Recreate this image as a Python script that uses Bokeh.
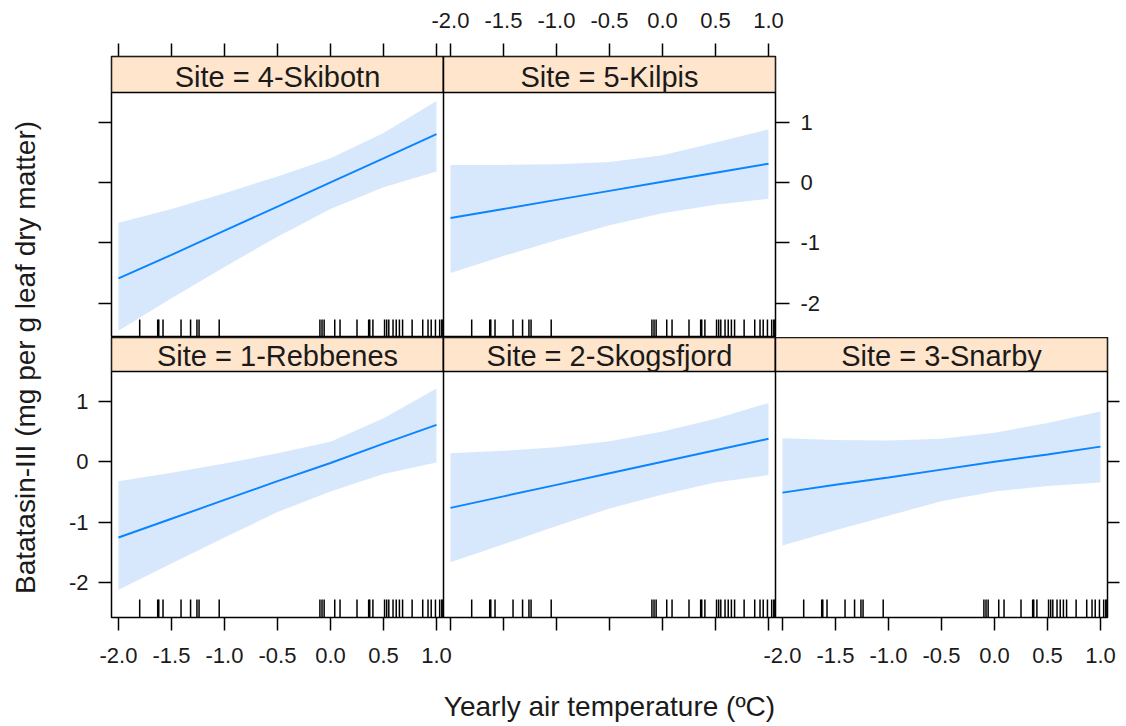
import math
from bokeh.plotting import figure
from bokeh.layouts import row, column
from bokeh.models import (Range1d, FixedTicker, LinearAxis, BoxAnnotation,
                          Label, Span, PrintfTickFormatter,
                          CustomJSTickFormatter)
from bokeh.embed import file_html
from bokeh.resources import INLINE

FONT = "Liberation Sans"

# ---------------- data ----------------
temp = [-2.0, -1.5, -1.0, -0.5, 0.0, 0.5, 1.0]

fit_skibotn = [-1.59, -1.20, -0.80, -0.40, 0.00, 0.40, 0.80]
lo_skibotn = [-2.46, -1.92, -1.40, -0.90, -0.44, -0.08, 0.18]
hi_skibotn = [-0.67, -0.44, -0.18, 0.10, 0.40, 0.82, 1.35]

fit_kilpis = [-0.59, -0.44, -0.29, -0.14, 0.01, 0.16, 0.31]
lo_kilpis = [-1.50, -1.22, -0.96, -0.71, -0.51, -0.37, -0.27]
hi_kilpis = [0.29, 0.29, 0.30, 0.34, 0.45, 0.66, 0.88]

fit_rebbenes = [-1.25, -0.94, -0.63, -0.32, -0.02, 0.30, 0.61]
lo_rebbenes = [-2.11, -1.68, -1.25, -0.83, -0.49, -0.20, -0.01]
hi_rebbenes = [-0.32, -0.18, -0.03, 0.14, 0.33, 0.72, 1.21]

fit_skogsfjord = [-0.76, -0.57, -0.38, -0.19, 0.00, 0.19, 0.38]
lo_skogsfjord = [-1.66, -1.36, -1.06, -0.77, -0.54, -0.34, -0.22]
hi_skogsfjord = [0.14, 0.18, 0.24, 0.34, 0.50, 0.71, 0.97]

fit_snarby = [-0.51, -0.38, -0.26, -0.13, 0.00, 0.12, 0.25]
lo_snarby = [-1.38, -1.13, -0.89, -0.65, -0.49, -0.40, -0.34]
hi_snarby = [0.39, 0.36, 0.35, 0.38, 0.48, 0.64, 0.83]

rug = [-1.80, -1.63, -1.62, -1.58, -1.41, -1.32, -1.26, -1.24, -1.05,
       -0.10, -0.08, -0.06, 0.04, 0.09, 0.25, 0.36, 0.37, 0.40, 0.51,
       0.53, 0.55, 0.59, 0.62, 0.65, 0.68, 0.77, 0.87, 0.92, 0.95, 0.99,
       1.03, 1.05, 1.06]

x_ticks = [-2.0, -1.5, -1.0, -0.5, 0.0, 0.5, 1.0]
y_ticks = [-2, -1, 0, 1]

top_sites = [("4-Skibotn", fit_skibotn, lo_skibotn, hi_skibotn),
             ("5-Kilpis", fit_kilpis, lo_kilpis, hi_kilpis)]
bottom_sites = [("1-Rebbenes", fit_rebbenes, lo_rebbenes, hi_rebbenes),
                ("2-Skogsfjord", fit_skogsfjord, lo_skogsfjord, hi_skogsfjord),
                ("3-Snarby", fit_snarby, lo_snarby, hi_snarby)]

x_title = "Yearly air temperature (\u00baC)"
y_title = "Batatasin-III (mg per g leaf dry matter)"

# ---------------- layout constants ----------------
XLO, XHI = -2.066, 1.066
XW = XHI - XLO
YLO, YHI = -2.57, 1.49
PANEL_W = 332
TICK_LEN = 13

LEFT_W = 60          # y-title column
BORDER_LEFT = 51
BORDER_RIGHT = 14
TOP_BORDER = 56
BOTTOM_BORDER = 56
XLAB_H = 53
PAGE_H = 726

BAND = "#d8e8fc"
LINE = "#0a84ff"
STRIP = "#ffe5cc"
TXT = "#1a1a1a"


def style_axis(ax, tick_len, standoff, font_size="22px"):
    ax.axis_line_color = None
    ax.major_tick_in = 0
    ax.major_tick_out = tick_len
    ax.major_tick_line_color = "black"
    ax.major_tick_line_width = 1.5
    ax.minor_tick_line_color = None
    ax.major_label_text_font = FONT
    ax.major_label_text_font_size = font_size
    ax.major_label_text_color = TXT
    ax.major_label_standoff = standoff
    return ax


def y_axis(labels, tick_len, standoff):
    ax = LinearAxis(ticker=FixedTicker(ticks=y_ticks, minor_ticks=[]),
                    formatter=PrintfTickFormatter(format="%d"))
    style_axis(ax, tick_len, standoff)
    if not labels:
        ax.major_label_overrides = {t: "" for t in y_ticks}
        ax.major_label_standoff = 0
    return ax


def x_axis(n, shown, standoff):
    # one tick set per panel, on the row's common (panel-index) scale
    ticks = [c * XW + (t - XLO) for c in range(n) for t in x_ticks]
    fmt = CustomJSTickFormatter(args=dict(W=XW, xlo=XLO, shown=shown), code="""
        const c = Math.floor(tick / W + 1e-6);
        if (!shown.includes(c)) return "";
        const t = Math.round((tick - c * W + xlo) * 10) / 10;
        return t.toFixed(1);
    """)
    ax = LinearAxis(ticker=FixedTicker(ticks=ticks, minor_ticks=[]),
                    formatter=fmt)
    return style_axis(ax, TICK_LEN, standoff)


def panel_row(sites, panel_h, strip_h, bl, br, bt, bb):
    n = len(sites)
    unit = (YHI - YLO) / panel_h
    strip_u = strip_h * unit
    p = figure(frame_width=PANEL_W * n, frame_height=panel_h + strip_h,
               x_range=Range1d(0, n * XW),
               y_range=Range1d(YLO, YHI + strip_u),
               x_axis_location=None, y_axis_location=None,
               min_border_left=bl, min_border_right=br,
               min_border_top=bt, min_border_bottom=bb,
               toolbar_location=None, output_backend="svg")
    p.xgrid.visible = False
    p.ygrid.visible = False
    p.outline_line_color = "black"
    p.outline_line_width = 1.5
    p.background_fill_color = "white"
    p.border_fill_color = "white"
    p.extra_x_ranges = {f"c{c}": Range1d(XLO - c * XW, XLO + (n - c) * XW)
                        for c in range(n)}

    for c, (site, fit, lo, hi) in enumerate(sites):
        rn = f"c{c}"
        p.varea(x=temp, y1=lo, y2=hi, fill_color=BAND, x_range_name=rn)
        p.line(temp, fit, line_color=LINE, line_width=1.9, x_range_name=rn)
        p.segment(x0=rug, y0=YLO, x1=rug, y1=YLO + 18 * unit,
                  line_color="black", line_width=1.5, x_range_name=rn)
        p.add_layout(BoxAnnotation(left=XLO, right=XHI, bottom=YHI,
                                   top=YHI + strip_u, fill_color=STRIP,
                                   fill_alpha=1.0, line_color="black",
                                   line_width=1.5, line_alpha=1.0,
                                   x_range_name=rn))
        p.add_layout(Label(x=(XLO + XHI) / 2, y=YHI + 15.5 * unit,
                           text="Site = " + site, text_align="center",
                           text_baseline="middle", text_font=FONT,
                           text_font_size="29px", text_color=TXT,
                           x_range_name=rn))
        if c < n - 1:
            p.add_layout(Span(location=XHI, dimension="height",
                              line_color="black", line_width=1.5,
                              x_range_name=rn))
    return p


top = panel_row(top_sites, 245, 36, BORDER_LEFT, 50, TOP_BORDER, 0)
top.add_layout(y_axis(False, TICK_LEN, 10), "left")
top.add_layout(y_axis(True, 14, 11), "right")
top.add_layout(x_axis(2, [1], 16), "above")

bottom = panel_row(bottom_sites, 246, 34, BORDER_LEFT, BORDER_RIGHT, 0,
                   BOTTOM_BORDER)
bottom.add_layout(y_axis(True, TICK_LEN, 10), "left")
bottom.add_layout(y_axis(False, 12, 0), "right")
bottom.add_layout(x_axis(3, [0, 2], 17), "below")


def blank(w, h, bl=0, br=0):
    f = figure(frame_width=w, frame_height=h, x_range=Range1d(0, w),
               y_range=Range1d(0, h), x_axis_location=None,
               y_axis_location=None, min_border=0, min_border_left=bl,
               min_border_right=br, toolbar_location=None,
               output_backend="svg")
    f.xgrid.visible = False
    f.ygrid.visible = False
    f.outline_line_color = None
    return f


# x title: frame aligned with the panel frames (starts at page x = 111)
xlab = blank(3 * PANEL_W, XLAB_H, BORDER_LEFT, BORDER_RIGHT)
xlab.add_layout(Label(x=609 - (LEFT_W + BORDER_LEFT), y=20, text=x_title,
                      text_align="center", text_baseline="middle",
                      text_font=FONT, text_font_size="28px", text_color=TXT))

ylab = blank(LEFT_W, PAGE_H)
ylab.add_layout(Label(x=25, y=PAGE_H - 357, text=y_title, angle=math.pi / 2,
                      text_align="center", text_baseline="middle",
                      text_font=FONT, text_font_size="28px", text_color=TXT))

layout = row(ylab, column(top, bottom, xlab))

open("out.html", "w").write(file_html(layout, INLINE))
